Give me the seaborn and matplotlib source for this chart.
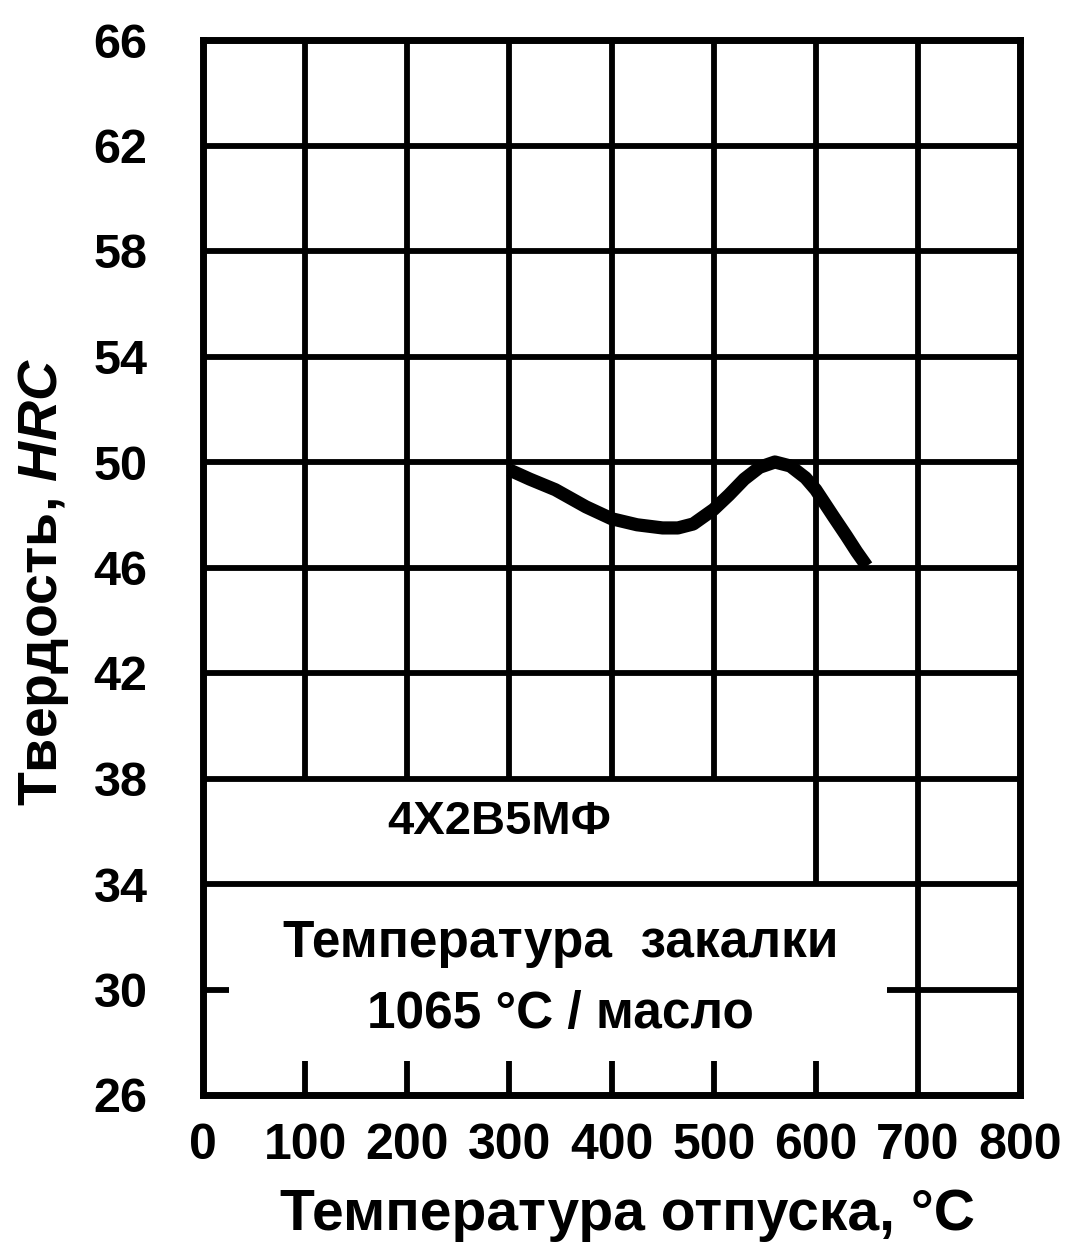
import matplotlib
matplotlib.use("Agg")
import matplotlib.pyplot as plt
import seaborn as sns
import pandas as pd

# hardness curve
temp = [300, 320, 345, 375, 400, 425, 450, 465, 480, 500, 515, 530, 545, 560, 575, 590, 600, 617, 630, 640, 650]
hrc = [49.7, 49.35, 48.95, 48.3, 47.85, 47.62, 47.5, 47.5, 47.65, 48.2, 48.75, 49.35, 49.8, 50.0, 49.85, 49.4, 48.95, 47.95, 47.2, 46.6, 46.05]

x_ticks = [0, 100, 200, 300, 400, 500, 600, 700, 800]
y_ticks = [26, 30, 34, 38, 42, 46, 50, 54, 58, 62, 66]

# grid as drawn in the original (parts hidden behind the text boxes)
h_full = [34, 38, 42, 46, 50, 54, 58, 62]
h30_parts = [(0, 25), (670, 800)]
v_lines = [100, 200, 300, 400, 500, 600, 700]
v_bottom = [38, 38, 38, 38, 38, 34, 26]
stub_top = 27.3

steel = "4Х2В5МФ"
quench = ["Температура  закалки", "1065 °С / масло"]

sns.set_style("white")
plt.rcParams['font.family'] = ['Liberation Sans', 'DejaVu Sans']
plt.rcParams['font.weight'] = 'bold'
plt.rcParams['text.color'] = 'black'
plt.rcParams['axes.labelcolor'] = 'black'
plt.rcParams['xtick.color'] = 'black'
plt.rcParams['ytick.color'] = 'black'
plt.rcParams['mathtext.fontset'] = 'custom'
plt.rcParams['mathtext.it'] = 'Liberation Sans:italic:bold'

fig = plt.figure(figsize=(10.72, 12.51), dpi=100)
ax = fig.add_axes([203/1072, 1 - 1095/1251, 817/1072, 1055/1251])

gkw = dict(color='black', lw=4.2, zorder=1, capstyle='butt')
ax.hlines(h_full, 0, 800, **gkw)
for a, b in h30_parts:
    ax.hlines(30, a, b, **gkw)
ax.vlines(v_lines, v_bottom, 66, **gkw)
ax.vlines(v_lines[:-1], 26, stub_top, **gkw)

df = pd.DataFrame({'temp': temp, 'hrc': hrc})
sns.lineplot(data=df, x='temp', y='hrc', ax=ax, color='black', lw=9.5,
             estimator=None, sort=False, zorder=3, solid_capstyle='butt')

ax.text(290, 36.35, steel, ha='center', va='center', fontsize=34, fontweight='bold')
ax.text(350, 31.75, quench[0], ha='center', va='center', fontsize=37, fontweight='bold')
ax.text(350, 29.05, quench[1], ha='center', va='center', fontsize=37, fontweight='bold')

ax.set_xlim(0, 800)
ax.set_ylim(26, 66)
ax.set_xticks(x_ticks)
ax.set_yticks(y_ticks)
ax.set_xticklabels([str(v) for v in x_ticks], fontsize=36, fontweight='bold')
ax.set_yticklabels([str(v) for v in y_ticks], fontsize=35, fontweight='bold')
ax.tick_params(axis='x', length=0, pad=20)
ax.tick_params(axis='y', length=0, pad=40)
for s in ax.spines.values():
    s.set_linewidth(5)
    s.set_color('black')

ax.set_xlabel('Температура отпуска, °C', fontsize=41, fontweight='bold')
ax.set_ylabel('Твердость, $\\mathit{HRC}$', fontsize=40, fontweight='bold')
ax.xaxis.set_label_coords(0.52, -0.088)
ax.yaxis.set_label_coords(-0.161, 0.486)

fig.savefig('out.png', dpi=100, facecolor='white')
